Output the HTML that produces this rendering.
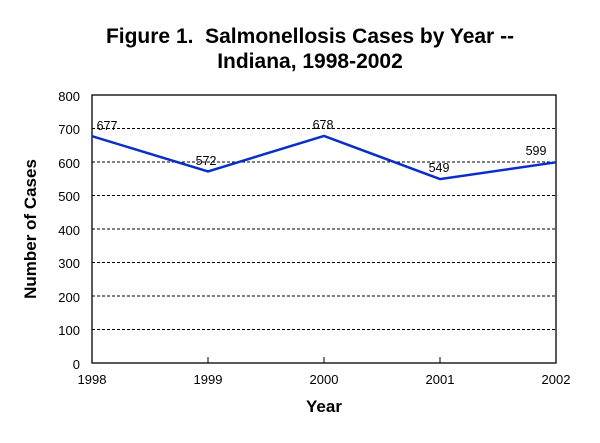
<!DOCTYPE html>
<html><head><meta charset="utf-8"><style>body{margin:0;background:#fff}</style></head><body>
<svg width="600" height="438" xmlns="http://www.w3.org/2000/svg" font-family="Liberation Sans, Arial, sans-serif">
<text x="310" y="43" text-anchor="middle" font-size="21" font-weight="bold" xml:space="preserve">Figure 1.  Salmonellosis Cases by Year --</text>
<text x="310" y="68" text-anchor="middle" font-size="21" font-weight="bold">Indiana, 1998-2002</text>
<g stroke="#000" stroke-width="1" stroke-dasharray="3,2">
<line x1="92" x2="556" y1="128.5" y2="128.5"/><line x1="92" x2="556" y1="162" y2="162"/>
<line x1="92" x2="556" y1="195.5" y2="195.5"/><line x1="92" x2="556" y1="229" y2="229"/>
<line x1="92" x2="556" y1="262.5" y2="262.5"/><line x1="92" x2="556" y1="296" y2="296"/>
<line x1="92" x2="556" y1="329.5" y2="329.5"/>
</g>
<rect x="92" y="95" width="464" height="268" fill="none" stroke="#000" stroke-width="1.3"/>
<g stroke="#000"><line x1="208" x2="208" y1="357" y2="363"/><line x1="324" x2="324" y1="357" y2="363"/><line x1="440" x2="440" y1="357" y2="363"/></g>
<g font-size="13" text-anchor="end"><text x="80" y="101">800</text><text x="80" y="134">700</text><text x="80" y="168">600</text><text x="80" y="201">500</text><text x="80" y="235">400</text><text x="80" y="268">300</text><text x="80" y="302">200</text><text x="80" y="335">100</text><text x="80" y="369">0</text></g>
<g font-size="13" text-anchor="middle"><text x="92" y="384">1998</text><text x="208" y="384">1999</text><text x="324" y="384">2000</text><text x="440" y="384">2001</text><text x="556" y="384">2002</text></g>
<text x="324" y="412" text-anchor="middle" font-size="17" font-weight="bold">Year</text>
<text transform="translate(36,229) rotate(-90)" text-anchor="middle" font-size="17" font-weight="bold">Number of Cases</text>
<polyline fill="none" stroke="#0a2fc8" stroke-width="2.5" points="92,136.2 208,171.4 324,135.9 440,179.1 556,162.3"/>
<g font-size="12.5" text-anchor="middle"><text x="107" y="130">677</text><text x="206" y="165">572</text><text x="323" y="129">678</text><text x="439" y="172">549</text><text x="536" y="155">599</text></g>
</svg>
</body></html>
